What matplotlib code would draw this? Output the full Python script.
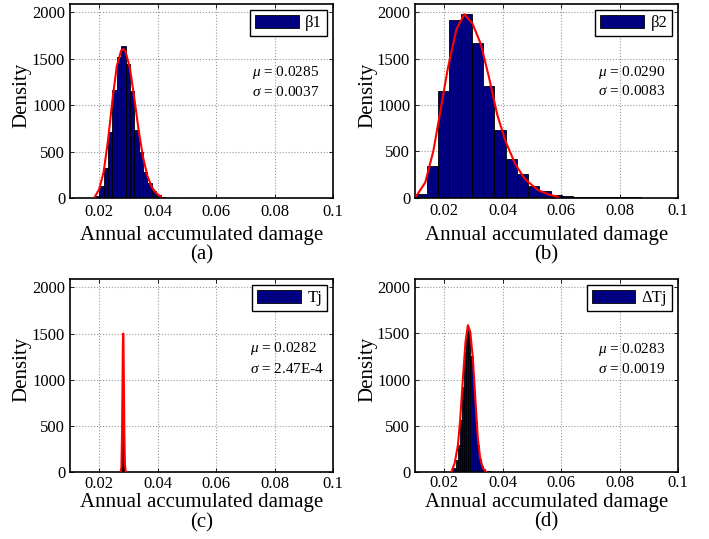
import numpy as np
import matplotlib
matplotlib.use("Agg")
import matplotlib.pyplot as plt

plt.rcParams["font.family"] = ["Liberation Serif", "DejaVu Serif"]
plt.rcParams["mathtext.fontset"] = "custom"
plt.rcParams["mathtext.rm"] = "Liberation Serif"
plt.rcParams["mathtext.it"] = "Liberation Serif:italic"

# ---- data ----
# (a) beta1: 20 bins between a_range
a_range = (0.0170, 0.0470)
a_counts = [5, 30, 135, 330, 715, 1160, 1520, 1640, 1440, 1150,
            740, 500, 285, 165, 80, 36, 15, 8, 5, 3]
a_fit_x = [0.0186, 0.0200, 0.0215, 0.0230, 0.0245, 0.0260, 0.0275, 0.0283,
           0.0290, 0.0305, 0.0320, 0.0335, 0.0350, 0.0365, 0.0380, 0.0395, 0.0410]
a_fit_y = [20, 100, 280, 620, 1050, 1420, 1590, 1605,
           1580, 1400, 1080, 730, 440, 240, 120, 55, 20]

# (b) beta2
b_range = (0.0102, 0.0872)
b_counts = [35, 335, 1150, 1920, 1980, 1665, 1205, 730, 415, 255,
            125, 70, 30, 15, 8, 5, 5, 5, 3, 10]
b_fit_x = [0.0105, 0.0135, 0.0163, 0.0191, 0.0213, 0.0242, 0.0269, 0.0297,
           0.0325, 0.0353, 0.0381, 0.0409, 0.0443, 0.0476, 0.0521, 0.0560, 0.0588]
b_fit_y = [18, 162, 505, 1010, 1405, 1820, 1980, 1875,
           1660, 1300, 900, 613, 361, 199, 80, 30, 8]

# (c) Tj
c_range = (0.0275, 0.0291)
c_counts = [10, 40, 150, 130, 220, 450, 1050, 1000, 700, 330,
            220, 200, 120, 60, 30, 15, 8, 4, 2, 1]
c_fit_x = [0.0273, 0.0276, 0.0278, 0.0280, 0.0281, 0.0282, 0.0283,
           0.0284, 0.0286, 0.0288, 0.0291]
c_fit_y = [0, 60, 400, 1050, 1400, 1500, 1420, 1100, 430, 80, 0]

# (d) delta Tj
d_range = (0.0224, 0.0370)
d_counts = [8, 40, 130, 290, 560, 920, 1300, 1540, 1520, 1260,
            880, 540, 290, 140, 60, 30, 14, 8, 4, 3]
d_fit_x = [0.0225, 0.0236, 0.0247, 0.0255, 0.0264, 0.0273, 0.0281, 0.0289,
           0.0298, 0.0307, 0.0315, 0.0323, 0.0332, 0.0343]
d_fit_y = [6, 97, 295, 584, 1016, 1412, 1590, 1520,
           1232, 763, 367, 151, 43, 5]

labels = ["\u03b21", "\u03b22", "Tj", "\u0394Tj"]
mus = ["0.0285", "0.0290", "0.0282", "0.0283"]
sigmas = ["0.0037", "0.0083", "2.47E-4", "0.0019"]
panels = ["(a)", "(b)", "(c)", "(d)"]

xticks = [0.02, 0.04, 0.06, 0.08, 0.1]
xticklabels = ["0.02", "0.04", "0.06", "0.08", "0.1"]
yticks = [0, 500, 1000, 1500, 2000]

W, H = 709, 539
fig = plt.figure(figsize=(W / 100, H / 100), dpi=100)

# axes boxes in pixels: left, top, right, bottom
boxes = [(70, 4, 333, 198.3), (415, 4, 678, 197.5),
         (70, 279, 333, 472.3), (415, 279, 678, 472)]
text_pos = [(0.691, 0.646, 0.549), (0.697, 0.645, 0.55),
            (0.684, 0.638, 0.534), (0.697, 0.633, 0.534)]
xlab_y = [-0.192, -0.197, -0.158, -0.158]
panel_y = [-0.292, -0.297, -0.262, -0.257]
ylab_x = [-0.184, -0.178, -0.184, -0.178]
tick_pad = [4, 4, 2.5, 2.5]

hists = [(a_range, a_counts, a_fit_x, a_fit_y),
         (b_range, b_counts, b_fit_x, b_fit_y),
         (c_range, c_counts, c_fit_x, c_fit_y),
         (d_range, d_counts, d_fit_x, d_fit_y)]

for i, (rng, counts, fx, fy) in enumerate(hists):
    l, t, r, b = boxes[i]
    ax = fig.add_axes([l / W, (H - b) / H, (r - l) / W, (b - t) / H])
    edges = np.linspace(rng[0], rng[1], len(counts) + 1)
    ax.bar(edges[:-1], counts, width=np.diff(edges), align="edge",
           color="#000080", edgecolor="black", linewidth=0.6,
           label=labels[i], zorder=2)
    ax.plot(fx, fy, color="red", linewidth=1.5, zorder=3)

    ax.set_xlim(0.01, 0.1)
    ax.set_ylim(0, 2090)
    ax.set_xticks(xticks)
    ax.set_xticklabels(xticklabels)
    ax.set_yticks(yticks)
    ax.tick_params(direction="in", top=True, right=True, labelsize=12,
                   length=3, width=0.6)
    ax.tick_params(axis="x", pad=tick_pad[i])
    ax.grid(True, linestyle=":", color="#999999", linewidth=0.8, zorder=0)
    ax.set_axisbelow(True)
    for sp in ax.spines.values():
        sp.set_linewidth(1.2)

    ax.set_xlabel("Annual accumulated damage", fontsize=15)
    ax.xaxis.set_label_coords(0.5, xlab_y[i])
    ax.xaxis.label.set_va("center")
    ax.set_ylabel("Density", fontsize=15)
    ax.yaxis.set_label_coords(ylab_x[i], 0.53)
    ax.yaxis.label.set_va("center")

    ax.text(0.5, panel_y[i], panels[i], transform=ax.transAxes,
            ha="center", va="center", fontsize=15)

    tx, ty1, ty2 = text_pos[i]
    ax.text(tx, ty1, r"$\mu$" + " = " + mus[i], transform=ax.transAxes,
            ha="left", va="center", fontsize=11)
    ax.text(tx, ty2, r"$\sigma$" + " = " + sigmas[i], transform=ax.transAxes,
            ha="left", va="center", fontsize=11)

    leg = ax.legend(loc="upper right", fontsize=12, fancybox=False,
                    framealpha=1, edgecolor="black", handlelength=2.6,
                    handleheight=0.8, borderaxespad=0.35, borderpad=0.3,
                    handletextpad=0.4)
    leg.get_frame().set_linewidth(1.0)

fig.savefig("out.png", dpi=100)
